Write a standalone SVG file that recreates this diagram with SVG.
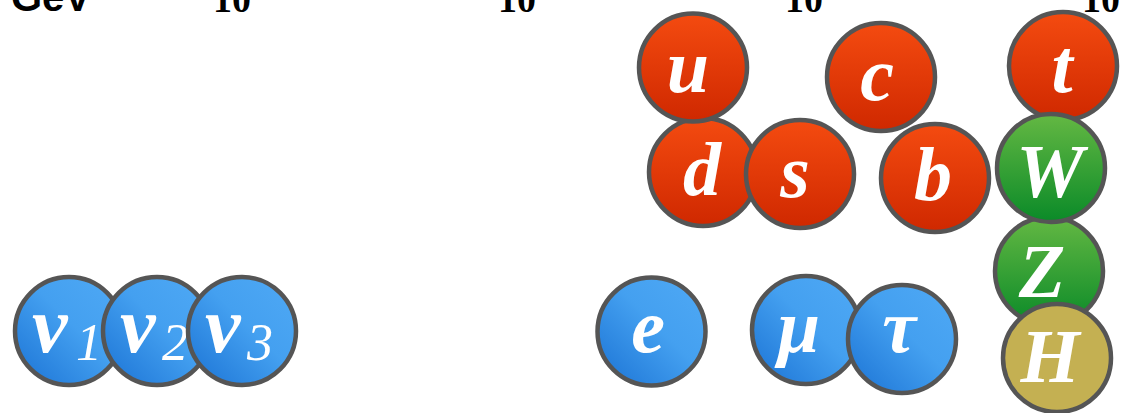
<svg xmlns="http://www.w3.org/2000/svg" width="1121" height="413" viewBox="0 0 1121 413">
<defs>
<linearGradient id="gRed" x1="0" y1="0" x2="0" y2="1"><stop offset="0" stop-color="#f44b10"/><stop offset="1" stop-color="#cf2800"/></linearGradient>
<linearGradient id="gGreen" x1="0" y1="0" x2="0" y2="1"><stop offset="0" stop-color="#64b843"/><stop offset="1" stop-color="#0a8a28"/></linearGradient>
<linearGradient id="gBlue" x1="1" y1="0" x2="0" y2="1"><stop offset="0" stop-color="#4fa9f5"/><stop offset="0.45" stop-color="#44a0f0"/><stop offset="1" stop-color="#1a72d4"/></linearGradient>
</defs>
<style>
.c{stroke:#555555;stroke-width:4.5}
.red{fill:url(#gRed)}
.green{fill:url(#gGreen)}
.blue{fill:url(#gBlue)}
.higgs{fill:#c4b052}
.l{fill:#ffffff;font-family:"Liberation Serif","DejaVu Serif",serif;font-style:italic;font-weight:bold;font-size:76px;text-anchor:middle}
.lh{font-weight:600}
.g{fill:#ffffff;font-family:"Liberation Serif","DejaVu Serif",serif;font-style:italic;font-size:80px}
.nu{font-weight:bold}
.sub{font-size:52px;font-weight:normal}
.axis{fill:#000000;font-family:"Liberation Serif",serif;font-weight:bold;font-size:38px}
.unit{fill:#000000;font-family:"Liberation Sans",Arial,sans-serif;font-weight:bold;font-size:40px}
</style>
<g id="axis">
<text class="unit" x="11" y="11">GeV</text>
<text class="axis" x="213" y="12">10</text>
<text class="axis" x="498" y="12">10</text>
<text class="axis" x="785" y="12">10</text>
<text class="axis" x="1082" y="12">10</text>
</g>
<g id="connectors"></g>
<g id="d"><circle class="c red" cx="703" cy="172" r="54"/><text class="l" x="702" y="195">d</text></g>
<g id="u"><circle class="c red" cx="693" cy="67.5" r="54"/><text class="l" x="688" y="92">u</text></g>
<g id="s"><circle class="c red" cx="800" cy="174" r="54"/><text class="l" x="795" y="197">s</text></g>
<g id="c"><circle class="c red" cx="881" cy="77" r="54"/><text class="l" x="877" y="100">c</text></g>
<g id="b"><circle class="c red" cx="935" cy="178" r="54"/><text class="l" x="933" y="200">b</text></g>
<g id="t"><circle class="c red" cx="1063" cy="66" r="54"/><text class="l" x="1062" y="92">t</text></g>
<g id="Z"><circle class="c green" cx="1049" cy="271" r="54"/><text class="l" x="1042" y="297">Z</text></g>
<g id="W"><circle class="c green" cx="1051" cy="168" r="54"/><text class="l" x="1050" y="197">W</text></g>
<g id="H"><circle class="c higgs" cx="1057" cy="358" r="54"/><text class="l lh" x="1050" y="382">H</text></g>
<g id="e"><circle class="c blue" cx="651.5" cy="331.5" r="54"/><text class="l" x="648" y="352">e</text></g>
<g id="mu"><circle class="c blue" cx="806" cy="330" r="54"/><text class="l" x="799" y="352">μ</text></g>
<g id="tau"><circle class="c blue" cx="902" cy="339" r="54"/><text class="l" x="899" y="352">τ</text></g>
<g id="nu1"><circle class="c blue" cx="69" cy="331" r="54"/><text class="g"><tspan class="nu" x="32" y="352">ν</tspan><tspan class="sub" x="76" y="360">1</tspan></text></g>
<g id="nu2"><circle class="c blue" cx="157" cy="331" r="54"/><text class="g"><tspan class="nu" x="120" y="352">ν</tspan><tspan class="sub" x="162" y="360">2</tspan></text></g>
<g id="nu3"><circle class="c blue" cx="242" cy="331" r="54"/><text class="g"><tspan class="nu" x="205" y="352">ν</tspan><tspan class="sub" x="247" y="360">3</tspan></text></g>
</svg>
